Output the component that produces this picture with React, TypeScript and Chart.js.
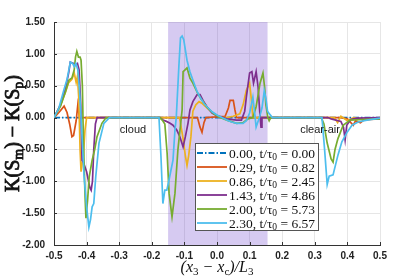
import React, { useEffect, useRef } from "react";
import { Chart, registerables } from "chart.js";

Chart.register(...registerables);

// ---------- data ----------
const TIMES = ["0.00", "0.29", "0.86", "1.43", "2.00", "2.30"];
const TAUS = ["0.00", "0.82", "2.45", "4.86", "5.73", "6.57"];
const COLORS = ["#0072BD", "#D95319", "#EDB120", "#7E2F8E", "#77AC30", "#4DBEEE"];
const SHADE_RANGE = [-0.15, 0.155];
const REGION_TEXT = ["cloud", "clear-air"];
const REGION_AT = [-0.298, 0.255];

const x0 = [-0.5, 0.5];
const y0 = [0, 0];

const x1 = [-0.5, -0.485, -0.469, -0.46, -0.452, -0.445, -0.44, -0.432, -0.427, -0.422, -0.41,
  -0.06, -0.052, -0.046, -0.04, -0.034, 0.025, 0.035, 0.04, 0.05, 0.055, 0.06,
  0.38, 0.4, 0.418, 0.425, 0.44, 0.45, 0.47, 0.5];
const y1 = [0, 0.08, 0.18, 0.08, -0.1, -0.3, -0.28, -0.05, 0.2, 0, 0,
  0, -0.15, -0.23, -0.08, 0, 0.02, 0.15, 0.27, 0.27, 0.12, 0,
  0, -0.02, -0.12, -0.05, -0.08, -0.04, -0.03, -0.02];

const x2 = [-0.5, -0.48, -0.465, -0.455, -0.445, -0.438, -0.432, -0.428, -0.424, -0.42, -0.417, -0.41, -0.405, -0.4,
  -0.115, -0.105, -0.097, -0.092, -0.087, -0.08, -0.074, -0.065, -0.055, -0.045, -0.03, -0.01, 0.01, 0.03, 0.05, 0.07,
  0.08, 0.09, 0.1, 0.105, 0.11, 0.36, 0.37, 0.38, 0.4, 0.42, 0.45, 0.5];
const y2 = [0, 0.2, 0.4, 0.55, 0.6, 0.7, 0.55, 0.65, 0.3, -0.5, -0.85, -0.6, -0.2, 0,
  0, -0.3, -0.6, -0.75, -0.6, -0.3, 0.1, 0.2, 0.25, 0.22, 0.15, 0.06, 0, 0, 0.02, 0.06,
  0.2, 0.43, 0.54, 0.3, 0, 0, -0.08, 0.02, -0.05, 0, -0.03, 0];

const x3 = [-0.5, -0.48, -0.465, -0.455, -0.45, -0.44, -0.435, -0.428, -0.423, -0.418, -0.414, -0.41, -0.4, -0.39, -0.386,
  -0.382, -0.378, -0.373, -0.368,
  -0.175, -0.166, -0.155, -0.144, -0.135, -0.123, -0.114, -0.104, -0.097, -0.089, -0.083, -0.074, -0.061, -0.052, -0.043,
  -0.031, -0.015, 0, 0.03, 0.06, 0.075, 0.085, 0.09, 0.1, 0.107, 0.112, 0.12, 0.126, 0.131, 0.135, 0.138,
  0.34, 0.35, 0.38, 0.388, 0.393, 0.398, 0.41, 0.43, 0.5];
const y3 = [0, 0.2, 0.45, 0.7, 0.87, 0.85, 0.82, 0.85, 0.75, 0.2, -0.67, -0.7, -0.85, -1.1, -1.14,
  -1.0, -0.5, -0.1, 0,
  0, -0.04, -0.06, -0.09, -0.12, -0.2, -0.3, -0.46, -0.3, -0.09, 0.12, 0.25, 0.36, 0.36, 0.27,
  0.17, 0.07, 0.03, -0.02, -0.04, -0.04, 0.1, 0.32, 0.7, 0.72, 0.54, 0.72, 0.48, 0.1, -0.15, 0,
  0, -0.02, -0.06, -0.15, -0.35, -0.12, -0.03, -0.01, 0];

const x4 = [-0.5, -0.48, -0.465, -0.454, -0.445, -0.438, -0.434, -0.43, -0.425, -0.42, -0.417, -0.413, -0.41, -0.405,
  -0.402, -0.397, -0.392, -0.383, -0.375, -0.368, -0.353, -0.34,
  -0.175, -0.168, -0.16, -0.153, -0.147, -0.138, -0.129, -0.12, -0.107, -0.104, -0.098, -0.092, -0.083, -0.074, -0.061,
  -0.05, -0.03, -0.01, 0.01, 0.03, 0.06, 0.08, 0.095, 0.11, 0.12, 0.132, 0.141, 0.146, 0.15, 0.156, 0.16, 0.165,
  0.32, 0.328, 0.338, 0.35, 0.356, 0.362, 0.371, 0.387, 0.408, 0.45, 0.5];
const y4 = [0, 0.18, 0.4, 0.59, 0.62, 0.75, 0.95, 1.04, 0.95, 0.95, 0.9, 0.5, -0.3, -1.2,
  -1.58, -1.3, -0.93, -0.67, -0.5, -0.3, -0.09, 0,
  0, -0.04, -0.1, -0.56, -1.19, -1.56, -1.19, -0.51, 0.12, 0.72, 0.75, 0.78, 0.62, 0.54, 0.4,
  0.3, 0.16, 0.06, 0, -0.04, -0.09, -0.08, -0.02, 0, 0.17, 0.54, 0.7, 0.48, 0.2, 0, -0.05, 0,
  0, -0.1, -0.4, -0.65, -0.7, -0.5, -0.33, -0.12, -0.04, -0.03, -0.02];

const x5 = [-0.5, -0.485, -0.47, -0.46, -0.45, -0.443, -0.438, -0.433, -0.427, -0.422, -0.415, -0.408, -0.4, -0.393,
  -0.388, -0.383, -0.378, -0.372, -0.362, -0.347, -0.33,
  -0.178, -0.172, -0.166, -0.16, -0.154, -0.148, -0.135, -0.129, -0.125, -0.117, -0.112, -0.107, -0.102, -0.092, -0.083,
  -0.074, -0.062, -0.052, -0.04, -0.031, -0.015, 0, 0.015, 0.031, 0.045, 0.061, 0.08, 0.09, 0.1, 0.11, 0.115, 0.12,
  0.13, 0.138, 0.145, 0.15, 0.155, 0.162, 0.17,
  0.322, 0.33, 0.338, 0.344, 0.356, 0.371, 0.383, 0.398, 0.414, 0.433, 0.46, 0.5];
const y5 = [0, 0.15, 0.43, 0.6, 0.87, 0.85, 0.8, 0.85, 0.75, 0.45, -0.2, -0.9, -1.4, -1.72,
  -1.6, -1.4, -1.35, -0.93, -0.4, -0.09, 0,
  0, -0.6, -1.35, -1.14, -1.14, -1.0, -0.67, -0.2, 0, 0.8, 1.25, 1.28, 1.22, 0.9, 0.72,
  0.59, 0.42, 0.32, 0.22, 0.17, 0.09, 0.04, 0, -0.04, -0.07, -0.09, -0.09, -0.05, 0.07, 0.32, 0.1, -0.15,
  0, 0.15, 0.42, 0.3, 0.1, 0.05, 0,
  0, -0.5, -1.05, -0.92, -0.9, -0.59, -0.38, -0.24, -0.12, -0.07, -0.04, -0.01];

const SERIES_X = [x0, x1, x2, x3, x4, x5];
const SERIES_Y = [y0, y1, y2, y3, y4, y5];

// ---------- helpers ----------
type Seg = { t: string; sub?: boolean };

function drawSegs(ctx: CanvasRenderingContext2D, segs: Seg[], font: string, subFont: string, subShift: number, x: number, y: number, align: "left" | "center", stroke = 0) {
  let total = 0;
  for (const s of segs) {
    ctx.font = s.sub ? subFont : font;
    total += ctx.measureText(s.t).width;
  }
  let cx = align === "center" ? x - total / 2 : x;
  ctx.textAlign = "left";
  for (const s of segs) {
    ctx.font = s.sub ? subFont : font;
    const yy = s.sub ? y + subShift : y;
    ctx.fillText(s.t, cx, yy);
    if (stroke > 0) {
      ctx.lineWidth = stroke;
      ctx.strokeStyle = ctx.fillStyle as string;
      ctx.strokeText(s.t, cx, yy);
    }
    cx += ctx.measureText(s.t).width;
  }
}

const DASHES = [[6, 2, 1.5, 2], [], [], [], [], []];

const overlayPlugin = {
  id: "overlayPlugin",
  beforeDatasetsDraw(chart: any) {
    const { ctx, chartArea: a, scales } = chart;
    const xs = scales.x;
    const l = xs.getPixelForValue(SHADE_RANGE[0]);
    const r = xs.getPixelForValue(SHADE_RANGE[1]);
    ctx.save();
    ctx.fillStyle = "rgba(120,80,210,0.30)";
    ctx.fillRect(l, a.top, r - l, a.bottom - a.top);
    ctx.restore();
  },
  afterDatasetsDraw(chart: any) {
    const { ctx, chartArea: a, scales } = chart;
    const xs = scales.x, ys = scales.y;
    ctx.save();
    // inward tick marks
    ctx.strokeStyle = "#333";
    ctx.lineWidth = 1;
    ctx.beginPath();
    for (const t of xs.ticks) {
      const px = Math.round(xs.getPixelForValue(t.value)) + 0.5;
      ctx.moveTo(px, a.bottom);
      ctx.lineTo(px, a.bottom - 3);
    }
    for (const t of ys.ticks) {
      const py = Math.round(ys.getPixelForValue(t.value)) + 0.5;
      ctx.moveTo(a.left, py);
      ctx.lineTo(a.left + 3, py);
    }
    ctx.stroke();
    // region labels
    ctx.fillStyle = "#1a1a1a";
    ctx.font = "11px 'Liberation Sans', Arial, sans-serif";
    ctx.textBaseline = "middle";
    ctx.textAlign = "left";
    for (let i = 0; i < REGION_TEXT.length; i++) {
      ctx.fillText(REGION_TEXT[i], xs.getPixelForValue(REGION_AT[i]), ys.getPixelForValue(-0.19));
    }
    // legend
    const left = a.left + 141, top = a.top + 121, w = 123, h = 87;
    ctx.fillStyle = "#ffffff";
    ctx.fillRect(left, top, w, h);
    ctx.strokeStyle = "#555";
    ctx.lineWidth = 1;
    ctx.strokeRect(left + 0.5, top + 0.5, w, h);
    const font = "13.5px 'Liberation Serif', 'Times New Roman', serif";
    const subFont = "9.5px 'Liberation Serif', 'Times New Roman', serif";
    ctx.textBaseline = "alphabetic";
    for (let i = 0; i < TIMES.length; i++) {
      const cy = top + 10 + i * 14;
      ctx.strokeStyle = COLORS[i];
      ctx.lineWidth = 1.8;
      ctx.setLineDash(DASHES[i]);
      ctx.beginPath();
      ctx.moveTo(left + 2, cy);
      ctx.lineTo(left + 32, cy);
      ctx.stroke();
      ctx.setLineDash([]);
      ctx.fillStyle = "#111";
      drawSegs(ctx, [{ t: TIMES[i] + ", t/τ" }, { t: "0", sub: true }, { t: " = " + TAUS[i] }], font, subFont, 2.5, left + 34, cy + 4.5, "left");
    }
    ctx.restore();
  },
  afterDraw(chart: any) {
    const { ctx, chartArea: a } = chart;
    ctx.save();
    ctx.fillStyle = "#111";
    ctx.textBaseline = "alphabetic";
    // x title
    drawSegs(ctx,
      [{ t: "(x" }, { t: "3", sub: true }, { t: " − x" }, { t: "c", sub: true }, { t: ")/L" }, { t: "3", sub: true }],
      "italic 16px 'Liberation Serif', 'Times New Roman', serif",
      "11px 'Liberation Serif', 'Times New Roman', serif", 3,
      (a.left + a.right) / 2, 272, "center");
    // y title (rotated)
    ctx.translate(19, (a.top + a.bottom) / 2);
    ctx.rotate(-Math.PI / 2);
    drawSegs(ctx,
      [{ t: "K(S" }, { t: "m", sub: true }, { t: ") − K(S" }, { t: "p", sub: true }, { t: ")" }],
      "20px 'Liberation Serif', 'Times New Roman', serif",
      "14px 'Liberation Serif', 'Times New Roman', serif", 4,
      0, 0, "center", 0.8);
    ctx.restore();
  },
};

export default function App() {
  const ref = useRef<HTMLCanvasElement | null>(null);
  useEffect(() => {
    document.body.style.margin = "0";
    if (!ref.current) return;
    const datasets = SERIES_X.map((xs, i) => ({
      label: TIMES[i],
      data: xs.map((x, j) => ({ x, y: SERIES_Y[i][j] })),
      borderColor: COLORS[i],
      backgroundColor: COLORS[i],
      borderWidth: 1.7,
      borderDash: DASHES[i],
      pointRadius: 0,
      tension: 0,
      fill: false,
      order: 5 - i,
    }));
    const tickFont = { family: "'Liberation Sans', Arial, sans-serif", size: 10, weight: "bold" as const };
    const chart = new Chart(ref.current, {
      type: "line",
      data: { datasets },
      options: {
        responsive: false,
        animation: false,
        layout: { padding: { top: 22, right: 19, left: 0, bottom: 0 } },
        plugins: { legend: { display: false }, tooltip: { enabled: false } },
        scales: {
          x: {
            type: "linear",
            min: -0.5,
            max: 0.5,
            ticks: {
              stepSize: 0.1,
              color: "#222",
              font: tickFont,
              padding: 5,
              maxRotation: 0,
              callback: (v: any) => (Math.abs(v) < 1e-9 ? "0.0" : Number(v).toFixed(1)),
            },
            grid: { color: "#e6e6e6", drawTicks: false },
            border: { color: "#333", width: 1 },
            afterFit: (s: any) => { s.height = 35; },
          },
          y: {
            type: "linear",
            min: -2,
            max: 1.5,
            ticks: {
              stepSize: 0.5,
              color: "#222",
              font: tickFont,
              padding: 9,
              callback: (v: any) => Number(v).toFixed(2),
            },
            grid: { color: "#e6e6e6", drawTicks: false },
            border: { color: "#333", width: 1 },
            afterFit: (s: any) => { s.width = 54; },
          },
        },
      },
      plugins: [overlayPlugin],
    });
    return () => chart.destroy();
  }, []);
  return (
    <div style={{ width: 399, height: 280 }}>
      <canvas ref={ref} width={399} height={280} style={{ display: "block" }} />
    </div>
  );
}
